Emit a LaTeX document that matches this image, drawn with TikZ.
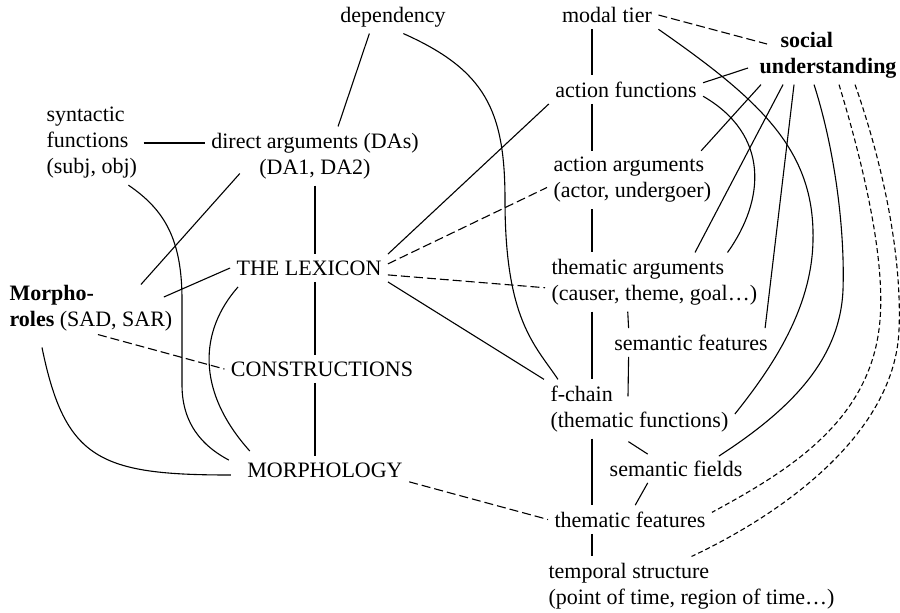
\documentclass[tikz,border=0pt]{standalone}
\usepackage{fontspec}
\setmainfont{Liberation Serif}
\begin{document}
\begin{tikzpicture}[x=0.5pt, y=-0.5pt, line width=0.55pt,
  every node/.style={inner sep=3pt, font=\fontsize{11}{13}\selectfont},
  lft/.style={align=left, anchor=west},
  dashln/.style={dash pattern=on 4.5pt off 2pt},
  dotln/.style={dash pattern=on 2.5pt off 1.5pt}]

\useasboundingbox (0,0) rectangle (900,612);

% Columns for the vertical links
\coordinate (colL) at (315,0);
\coordinate (colR) at (592,0);

% Place the labels
\node (dep) at (393,17) {dependency};
\node (modal) at (607,15) {modal tier};
\node[lft, font=\fontsize{11}{13}\selectfont\bfseries] (soc) at (753,55) {\hspace*{10.5pt}social\\understanding};
\node[lft] (synf) at (40,143) {syntactic\\functions\\(subj, obj)};
\node[align=center] (dargs) at (315,156) {direct arguments (DAs)\\(DA1, DA2)};
\node[lft] (morro) at (3,308) {\textbf{Morpho-}\\\textbf{roles} (SAD, SAR)};
\node (lex) at (309,268) {THE LEXICON};
\node (constr) at (322,369) {CONSTRUCTIONS};
\node (morph) at (325,470) {MORPHOLOGY};
\node (actf) at (626,89.5) {action functions};
\node[lft] (acta) at (547,180) {action arguments\\(actor, undergoer)};
\node[lft] (thema) at (545,282) {thematic arguments\\(causer, theme, goal…)};
\node (semf) at (691,342.5) {semantic features};
\node[lft] (fchain) at (544,409) {f-chain\\(thematic functions)};
\node (semfi) at (676,468.5) {semantic fields};
\node (themf) at (630,519.5) {thematic features};
\node[lft] (temp) at (542,586) {temporal structure\\(point of time, region of time…)};

% Vertical links
\draw (dargs.south -| colL) -- (lex.north -| colL);
\draw (lex.south -| colL) -- (constr.north -| colL);
\draw (constr.south -| colL) -- (morph.north -| colL);
\draw (modal.south -| colR) -- (actf.north -| colR);
\draw (actf.south -| colR) -- (acta.north -| colR);
\draw (acta.south -| colR) -- (thema.north -| colR);
\draw (thema.south -| colR) -- (fchain.north -| colR);
\draw (fchain.south -| colR) -- (themf.north -| colR);
\draw (themf.south -| colR) -- (temp.north -| colR);

% Left half
\draw (dep.-145) -- (dargs.52);
\draw (dep.-58) .. controls (485,70) and (505,110) .. (505,200) .. controls (505,320) and (535,345) .. (fchain.160);
\draw (synf.east) -- (synf.east -| dargs.west);
\draw (synf.-49) .. controls (165,210) and (182,240) .. (182,300) -- (182,385) .. controls (182,430) and (210,450) .. ([shift={(-12,4)}]morph.north west);
\draw ([shift={(35,-12)}]dargs.south west) -- ([shift={(50,6)}]morro.north);
\draw (lex.west) -- ([shift={(-15,-11)}]morro.east);
\draw ([shift={(8,5)}]lex.south west) .. controls (200,330) and (195,390) .. ([shift={(9,-5)}]morph.north west);
\draw[dashln] ([shift={(7,-3)}]morro.south) -- (constr.west);
\draw ([shift={(39,10)}]morro.south west) .. controls (65,460) and (100,475) .. ([shift={(-10,5)}]morph.west);
\draw[dashln] (morph.-8) -- (themf.west);

% From the lexicon to the right column
\draw (lex.north east) -- (actf.south west);
\draw[dashln] (lex.3) -- (acta.185);
\draw[dashln] (lex.-5) -- (thema.183);
\draw (lex.south east) -- (fchain.north west);

% Semantic side links
\draw (thema.-132) -- (semf.167);
\draw (semf.-167) -- ([shift={(84,17)}]fchain.north west);
\draw ([shift={(-11,3)}]fchain.south) -- (semfi.153);
\draw (semfi.-153) -- (themf.70);

% Social understanding and modal tier
\draw[dashln] (modal.east) -- ([shift={(14,-11)}]soc.west);
\draw (modal.south east) .. controls (760,100) and (815,150) .. (813,240) .. controls (812,310) and (770,370) .. (fchain.-3);
\draw (actf.5) -- ([shift={(-5,13)}]soc.west);
\draw (actf.-5) .. controls (770,135) and (765,200) .. (thema.22);
\draw ([shift={(-67,0)}]soc.south) -- (acta.23);
\draw ([shift={(-45,0)}]soc.south) -- (thema.36);
\draw ([shift={(-34,0)}]soc.south) -- (semf.11);
\draw ([shift={(-14,0)}]soc.south) .. controls (835,150) and (845,230) .. (843,290) .. controls (840,360) and (790,410) .. ([shift={(-30,2)}]semfi.north east);
\draw[dotln] ([shift={(11,0)}]soc.south) .. controls (865,170) and (885,260) .. (880,320) .. controls (872,420) and (790,470) .. (themf.5);
\draw[dotln] ([shift={(27,0)}]soc.south) .. controls (885,170) and (902,260) .. (899,330) .. controls (895,430) and (790,510) .. (temp.north);

\end{tikzpicture}
\end{document}
